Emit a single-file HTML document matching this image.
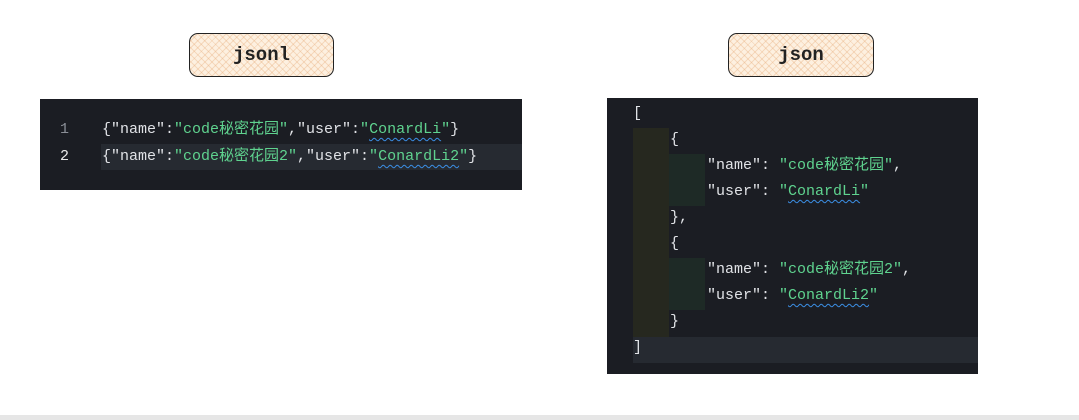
<!DOCTYPE html>
<html><head><meta charset="utf-8"><style>
body{margin:0;width:1079px;height:420px;background:#fff;position:relative;overflow:hidden;font-family:"Liberation Mono","Noto Sans CJK SC",monospace}
.lbl{position:absolute;height:42px;border:1.5px solid #222;border-radius:9px;background-color:#fdf0e0;background-image:repeating-linear-gradient(45deg,rgba(230,170,120,.35) 0 1px,transparent 1px 5px),repeating-linear-gradient(-45deg,rgba(230,170,120,.35) 0 1px,transparent 1px 5px);font-size:19px;font-weight:bold;color:#222;text-align:center;line-height:42px}
.pan{position:absolute;background:#1b1d23}
.t{position:absolute;font-size:15px;color:#e0e2e6;white-space:pre;line-height:20px}
.g{color:#5fd38f}.n{color:#8a8e96}
.u{text-decoration:underline wavy #3b8fe6;text-decoration-thickness:1px;text-underline-offset:4px}
</style></head><body>
<div class="lbl" style="left:189px;top:33px;width:143px">jsonl</div>
<div class="lbl" style="left:728px;top:33px;width:144px">json</div>

<div class="pan" style="left:40px;top:99px;width:482px;height:91px">
 <div style="position:absolute;left:61px;top:45px;width:421px;height:26px;background:#262a31"></div>
 <div class="t n" style="left:20px;top:21px">1</div>
 <div class="t" style="left:20px;top:48px;color:#e8e8e8">2</div>
 <div class="t" style="left:62px;top:21px">{"name":<span class="g">"code秘密花园"</span>,"user":<span class="g">"<span class="u">ConardLi</span>"</span>}</div>
 <div class="t" style="left:62px;top:48px">{"name":<span class="g">"code秘密花园2"</span>,"user":<span class="g">"<span class="u">ConardLi2</span>"</span>}</div>
</div>

<div class="pan" style="left:607px;top:98px;width:371px;height:276px">
 <div style="position:absolute;left:26px;top:30px;width:36px;height:209px;background:#26281f"></div>
 <div style="position:absolute;left:62px;top:56px;width:36px;height:52px;background:#1e2a26"></div>
 <div style="position:absolute;left:62px;top:160px;width:36px;height:52px;background:#1e2a26"></div>
 <div style="position:absolute;left:26px;top:239px;width:345px;height:26px;background:#262a31"></div>
 <div class="t" style="left:26px;top:6px">[</div>
 <div class="t" style="left:63px;top:32px">{</div>
 <div class="t" style="left:100px;top:58px">"name": <span class="g">"code秘密花园"</span>,</div>
 <div class="t" style="left:100px;top:84px">"user": <span class="g">"<span class="u">ConardLi</span>"</span></div>
 <div class="t" style="left:63px;top:110px">},</div>
 <div class="t" style="left:63px;top:136px">{</div>
 <div class="t" style="left:100px;top:162px">"name": <span class="g">"code秘密花园2"</span>,</div>
 <div class="t" style="left:100px;top:188px">"user": <span class="g">"<span class="u">ConardLi2</span>"</span></div>
 <div class="t" style="left:63px;top:214px">}</div>
 <div class="t" style="left:26px;top:240px">]</div>
</div>
<div style="position:absolute;left:0;top:415px;width:1079px;height:5px;background:#e6e6e6"></div>
</body></html>
